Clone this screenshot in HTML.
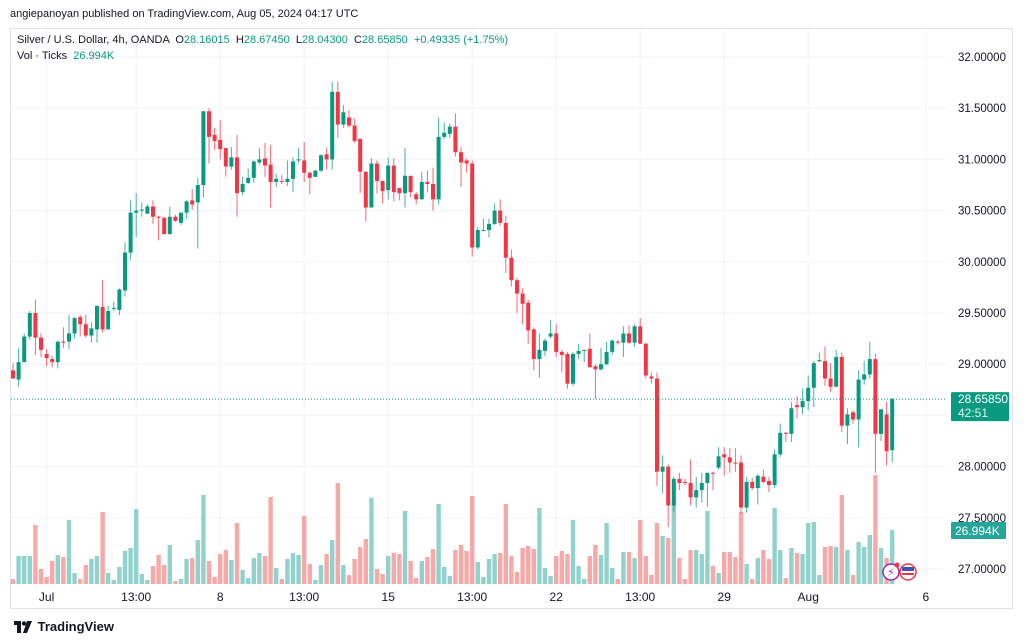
<!DOCTYPE html>
<html><head><meta charset="utf-8">
<style>
html,body{margin:0;padding:0;background:#fff;}
body{width:1024px;height:643px;overflow:hidden;position:relative;font-family:"Liberation Sans",sans-serif;color:#131722;}
#hdr{position:absolute;left:10px;top:8px;font-size:11px;color:#131722;}
#frame{position:absolute;left:10px;top:28px;width:1003px;height:581px;border:1px solid #e0e3eb;box-sizing:border-box;}
#leg1{position:absolute;left:17px;top:34px;font-size:11px;color:#131722;white-space:pre;}
#leg2{position:absolute;left:17px;top:50px;font-size:11px;color:#131722;white-space:pre;}
.g{color:#089981;}
#footer{position:absolute;left:14px;top:619px;font-size:13px;font-weight:bold;color:#131722;}
svg{position:absolute;left:0;top:0;}
</style></head>
<body>
<div id="hdr">angiepanoyan published on TradingView.com, Aug 05, 2024 04:17 UTC</div>
<div id="frame"></div>
<svg id="chart" width="1024" height="643"></svg>
<div id="leg1">Silver / U.S. Dollar, 4h, OANDA  O<span class="g">28.16015</span>  H<span class="g">28.67450</span>  L<span class="g">28.04300</span>  C<span class="g">28.65850</span>  <span class="g">+0.49335 (+1.75%)</span></div>
<div id="leg2">Vol · Ticks  <span class="g">26.994K</span></div>
<div id="footer"><svg width="20" height="12" style="position:relative;left:0;top:1px;vertical-align:-1px" viewBox="0 0 20 12"><rect x="0" y="0" width="7" height="4" fill="#131722"/><rect x="3" y="0" width="4" height="12" fill="#131722"/><circle cx="10" cy="2.5" r="2.2" fill="#131722"/><polygon points="13,0 18,0 13,12 9,12" fill="#131722"/></svg> TradingView</div>
<script>
const opens=[28.94,28.85,29.02,29.27,29.50,29.26,29.10,29.05,29.02,29.22,29.22,29.30,29.46,29.39,29.28,29.34,29.56,29.34,29.54,29.53,29.72,30.09,30.48,30.50,30.47,30.54,30.44,30.43,30.27,30.44,30.38,30.48,30.60,30.58,30.75,31.47,31.24,31.19,31.11,30.93,31.02,30.68,30.77,30.82,30.97,31.01,30.95,30.78,30.79,30.78,30.81,30.99,30.99,30.87,30.83,30.89,31.05,31.00,31.66,31.34,31.41,31.33,31.20,30.88,30.53,30.96,30.79,30.70,30.94,30.72,30.67,30.84,30.66,30.61,30.78,30.76,30.61,31.22,31.25,31.32,31.07,30.99,30.96,30.14,30.31,30.31,30.37,30.50,30.38,30.04,29.82,29.69,29.60,29.34,29.05,29.13,29.27,29.30,29.12,29.10,28.81,29.10,29.13,29.15,28.98,28.95,29.00,29.12,29.22,29.21,29.30,29.21,29.37,29.20,28.88,28.86,27.95,28.00,27.62,27.88,27.85,27.84,27.70,27.77,27.84,27.94,27.99,28.12,28.09,28.04,28.04,27.60,27.85,27.79,27.90,27.86,27.82,28.12,28.33,28.32,28.60,28.58,28.64,28.77,29.03,29.03,28.86,28.78,29.07,28.40,28.53,28.46,28.85,28.90,29.05,28.32,28.51,28.16];
const highs=[29.01,29.16,29.30,29.52,29.63,29.30,29.15,29.08,29.23,29.36,29.48,29.46,29.48,29.48,29.41,29.57,29.82,29.57,29.61,29.74,30.19,30.60,30.67,30.58,30.56,30.60,30.45,30.44,30.54,30.46,30.48,30.60,30.71,30.82,31.47,31.50,31.31,31.38,31.11,31.12,31.24,30.83,30.91,30.99,31.11,31.16,31.14,30.86,30.85,30.99,31.02,31.11,31.17,30.88,30.90,31.05,31.11,31.76,31.76,31.53,31.48,31.40,31.20,30.88,31.01,30.99,30.79,31.02,31.01,30.72,31.11,30.84,30.68,30.88,30.89,30.92,31.41,31.36,31.35,31.45,31.12,31.01,30.99,30.34,30.42,30.42,30.57,30.61,30.45,30.12,29.84,29.74,29.63,29.36,29.30,29.25,29.43,29.39,29.14,29.12,29.12,29.20,29.14,29.30,29.00,29.16,29.22,29.24,29.24,29.37,29.38,29.39,29.45,29.21,28.92,28.92,28.11,28.02,27.90,27.94,27.88,28.07,27.90,27.94,27.93,27.95,28.19,28.19,28.18,28.18,28.11,27.90,27.89,27.93,27.97,27.90,28.17,28.42,28.34,28.63,28.69,28.76,28.89,29.03,29.11,29.17,29.01,29.14,29.11,28.57,28.55,28.94,29.03,29.22,29.10,28.56,28.63,28.67];
const lows=[28.86,28.78,29.02,29.24,29.09,29.07,28.98,28.97,28.96,29.16,29.15,29.25,29.27,29.26,29.21,29.21,29.31,29.34,29.52,29.48,29.66,30.02,30.24,30.44,30.47,30.37,30.21,30.27,30.27,30.39,30.36,30.42,30.51,30.13,30.63,30.96,31.09,31.00,30.83,30.90,30.44,30.65,30.76,30.77,30.95,30.83,30.53,30.73,30.76,30.74,30.68,30.96,30.78,30.66,30.83,30.88,30.90,30.90,31.21,31.31,31.31,31.16,30.67,30.39,30.53,30.67,30.57,30.61,30.59,30.60,30.53,30.63,30.56,30.61,30.68,30.50,30.56,31.20,31.21,31.03,30.73,30.87,30.05,30.12,30.30,30.24,30.36,30.35,29.89,29.76,29.50,29.39,29.20,28.94,28.87,29.08,29.25,29.07,28.92,28.76,28.79,29.05,29.02,28.97,28.66,28.94,28.99,29.09,29.19,29.07,29.20,29.17,29.20,28.86,28.81,27.81,27.74,27.41,27.56,27.77,27.82,27.62,27.60,27.65,27.61,27.77,27.97,27.91,27.94,27.95,27.54,27.55,27.77,27.63,27.84,27.75,27.79,28.09,28.24,28.24,28.47,28.51,28.55,28.58,29.02,28.79,28.73,28.78,28.34,28.22,28.42,28.19,28.80,28.86,27.94,28.25,28.01,28.04];
const closes=[28.86,29.02,29.27,29.50,29.26,29.14,29.06,29.02,29.22,29.21,29.30,29.45,29.39,29.28,29.35,29.57,29.34,29.52,29.55,29.73,30.09,30.48,30.50,30.51,30.54,30.44,30.43,30.27,30.44,30.40,30.48,30.59,30.56,30.75,31.47,31.22,31.18,31.10,30.93,31.02,30.67,30.76,30.82,30.98,31.00,30.94,30.78,30.81,30.78,30.81,30.98,31.00,30.87,30.82,30.89,31.04,31.00,31.66,31.34,31.46,31.33,31.18,30.88,30.53,30.96,30.79,30.69,30.94,30.68,30.67,30.84,30.68,30.61,30.78,30.76,30.61,31.22,31.26,31.32,31.07,30.97,30.96,30.14,30.31,30.31,30.37,30.50,30.38,30.04,29.82,29.69,29.59,29.33,29.05,29.14,29.23,29.30,29.12,29.09,28.81,29.10,29.13,29.14,28.97,28.95,29.00,29.12,29.23,29.21,29.30,29.21,29.37,29.20,28.89,28.86,27.95,28.00,27.62,27.88,27.84,27.84,27.70,27.77,27.84,27.94,27.93,28.10,28.09,28.04,28.03,27.60,27.85,27.79,27.91,27.85,27.82,28.12,28.33,28.32,28.57,28.58,28.64,28.77,29.01,29.04,28.86,28.78,29.07,28.40,28.51,28.46,28.85,28.90,29.05,28.32,28.56,28.15,28.66];
const volumes=[5,28,28,28,59,15,7,23,29,27,64,11,5,19,25,28,72,11,4,17,33,36,75,10,4,18,29,19,39,3,5,25,26,44,89,23,7,30,34,24,61,14,6,26,31,28,87,16,5,25,31,29,68,20,4,19,30,44,101,19,9,25,37,45,86,15,10,28,31,30,73,23,6,23,27,35,80,17,8,34,39,33,88,22,7,25,30,31,80,28,12,36,38,35,76,16,8,28,33,30,64,18,5,28,39,29,61,16,5,32,32,26,64,28,9,61,48,46,82,26,5,34,34,30,73,18,11,32,32,27,72,20,5,26,34,25,76,34,6,36,31,30,61,62,9,37,38,37,89,34,9,42,37,49,109,36,26,54];
const priceTicks=[27.0,27.5,28.0,28.5,29.0,29.5,30.0,30.5,31.0,31.5,32.0];
const timeLabels=["Jul","13:00","8","13:00","15","13:00","22","13:00","29","Aug","6"];
const timeLabelIdx=[6,22,37,52,67,82,97,112,127,142,163];

const NS="http://www.w3.org/2000/svg";
const svg=document.getElementById('chart');
const X0=13, DX=5.6;
function xs(i){return X0+i*DX;}
function ys(p){return 57+(32-p)*102.4;}
const VBASE=584, VK=1.0;
function yv(v){return VBASE-v*VK;}
function mk(tag,attrs){const e=document.createElementNS(NS,tag);for(const k in attrs)e.setAttribute(k,attrs[k]);svg.appendChild(e);return e;}

priceTicks.forEach((p,i)=>{
  const l=mk('line',{x1:11,x2:946,y1:ys(p),y2:ys(p),stroke:'#f0f3fa','stroke-width':1});
  
  
  const t=mk('text',{x:958,y:ys(p)+4,'font-size':11.5,fill:'#131722','font-family':'Liberation Sans, sans-serif'});
  t.textContent=p.toFixed(5);
  
  
});
timeLabels.forEach((s,i)=>{
  const x=xs(timeLabelIdx[i]);
  const l=mk('line',{x1:x,x2:x,y1:29,y2:585,stroke:'#f0f3fa','stroke-width':1});
  
  
  const t=mk('text',{x:x,y:601,'font-size':12,fill:'#131722','text-anchor':'middle','font-family':'Liberation Sans, sans-serif'});
  t.textContent=s;
  
  
});

volumes.forEach((v,i)=>{
  const up=closes[i]>=opens[i];
  const r=mk('rect',{x:xs(i)-2.2,y:yv(v),width:4.4,height:v*VK,fill:up?'#92d2cc':'#f7a9a7'});
  
  
});

opens.forEach((o,i)=>{
  const c=closes[i],up=c>=o,col=up?'#089981':'#f23645',x=xs(i);
  const w=mk('line',{x1:x,x2:x,y1:ys(highs[i]),y2:ys(lows[i]),stroke:col,'stroke-width':1,opacity:0.75});
  
  
  const top=ys(Math.max(o,c)),bot=ys(Math.min(o,c));
  const b=mk('rect',{x:x-2,y:top,width:4,height:Math.max(1,bot-top),fill:col});
  
  
});

const pl=mk('line',{x1:11,x2:946,y1:ys(28.6585),y2:ys(28.6585),stroke:'#089981','stroke-width':1,'stroke-dasharray':'1,2'});


const pb=mk('rect',{x:951,y:ys(28.6585)-7,width:58,height:29,fill:'#089981',rx:1});


const pt=mk('text',{x:958,y:ys(28.6585)+4,'font-size':12,fill:'#fff','font-family':'Liberation Sans, sans-serif'});
pt.textContent='28.65850';


const ct=mk('text',{x:958,y:ys(28.6585)+18,'font-size':12,fill:'#e0f2ef','font-family':'Liberation Sans, sans-serif'});
ct.textContent='42:51';


const vb=mk('rect',{x:951,y:522,width:55,height:17,fill:'#26a69a',rx:1});


const vt=mk('text',{x:955,y:535,'font-size':12,fill:'#fff','font-family':'Liberation Sans, sans-serif'});
vt.textContent='26.994K';



const ic1=mk('circle',{cx:891,cy:572,r:8,fill:'#fff',stroke:'#9c27b0','stroke-width':1.5});


const ic1t=mk('text',{x:891,y:576,'font-size':11,fill:'#9c27b0','text-anchor':'middle','font-family':'DejaVu Sans, sans-serif'});
ic1t.textContent='⚡';


const ic2=mk('circle',{cx:908,cy:572,r:8,fill:'#fff',stroke:'#f23645','stroke-width':1.5});


const ic2a=mk('rect',{x:902,y:567,width:12,height:4,fill:'#3f51b5'});


const ic2b=mk('rect',{x:902,y:573,width:12,height:2,fill:'#f23645'});


const dot=mk('circle',{cx:897,cy:565,r:2.5,fill:'#f23645'});


</script>
</body></html>
